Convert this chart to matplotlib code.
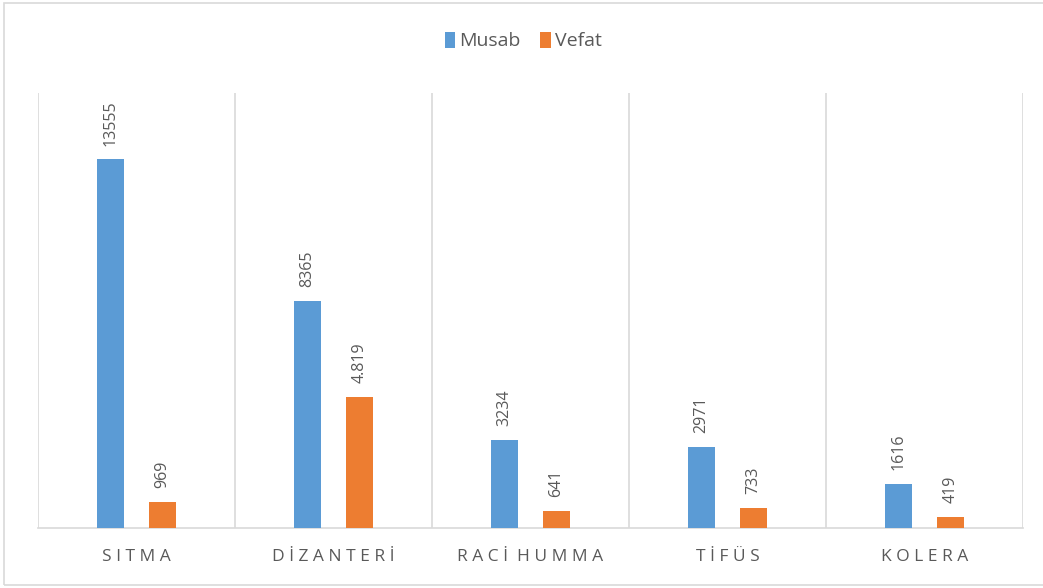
import matplotlib
matplotlib.use("Agg")
import matplotlib.pyplot as plt
from matplotlib.patches import Rectangle
import numpy as np

categories = ["SITMA", "DİZANTERİ", "RACİ HUMMA", "TİFÜS", "KOLERA"]
musab = [13555, 8365, 3234, 2971, 1616]
vefat = [969, 4819, 641, 733, 419]
musab_labels = ["13555", "8365", "3234", "2971", "1616"]
vefat_labels = ["969", "4.819", "641", "733", "419"]

plt.rcParams['font.family'] = ['Open Sans', 'DejaVu Sans']

W, H = 1043, 588
fig = plt.figure(figsize=(W / 100, H / 100), dpi=100)
fig.patch.set_facecolor("white")

# chart border
fig.patches.append(Rectangle((4 / W, 3 / H), (W + 5) / W, (H - 6) / H, transform=fig.transFigure,
                             fill=False, edgecolor="#d9d9d9", linewidth=1.2))

ax = fig.add_axes([38 / W, (H - 528) / H, (1023 - 38) / W, (528 - 93) / H])
blue = "#5B9BD5"
orange = "#ED7D31"
grey = "#595959"

x = np.arange(len(categories))
bw = 0.137
off = 0.132
b1 = ax.bar(x - off, musab, bw, color=blue, label="Musab", zorder=3)
b2 = ax.bar(x + off, vefat, bw, color=orange, label="Vefat", zorder=3)

for rects, labs in ((b1, musab_labels), (b2, vefat_labels)):
    for r, lab in zip(rects, labs):
        ax.annotate(lab, (r.get_x() + r.get_width() / 2, r.get_height()),
                    xytext=(0, 10), textcoords="offset points", rotation=90,
                    ha="center", va="bottom", fontsize=11.5, color=grey)


def spaced(s):
    return "  ".join(" ".join(list(w)) for w in s.split(" "))


ax.set_xlim(-0.5, len(categories) - 0.5)
ax.set_ylim(0, 16000)
ax.set_yticks([])
ax.set_xticks(x)
ax.set_xticklabels([spaced(c) for c in categories], fontsize=12.5, color=grey)
ax.tick_params(axis="x", length=0, pad=15)
ax.set_xticks(np.arange(-0.5, len(categories)), minor=True)
ax.tick_params(axis="x", which="minor", length=0)
ax.grid(True, which="minor", axis="x", color="#d9d9d9", linewidth=1.2, zorder=0)
for s in ("top", "left", "right"):
    ax.spines[s].set_visible(False)
ax.spines["bottom"].set_color("#d9d9d9")
ax.spines["bottom"].set_linewidth(1.2)

leg = fig.legend(loc="center", bbox_to_anchor=(523 / W, 1 - 41 / H), ncol=2, frameon=False,
                 fontsize=14, handlelength=0.55, handleheight=0.9, handletextpad=0.2,
                 columnspacing=1.0)
for t in leg.get_texts():
    t.set_color(grey)

fig.savefig("out.png", dpi=100)
